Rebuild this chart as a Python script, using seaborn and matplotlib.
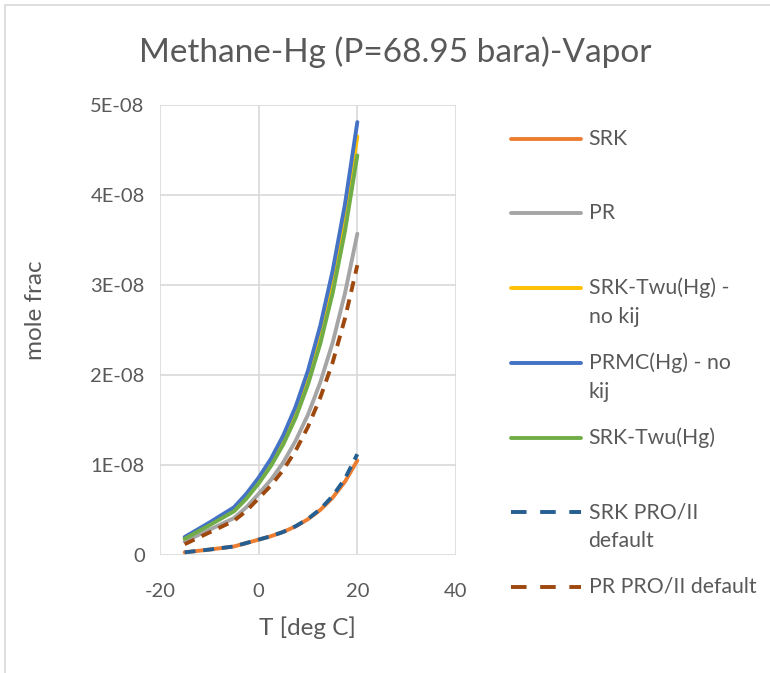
import numpy as np
import pandas as pd
import seaborn as sns
import matplotlib
matplotlib.use("Agg")
import matplotlib.pyplot as plt
from matplotlib.legend_handler import HandlerLine2D
from matplotlib.patches import Rectangle
from matplotlib.ticker import FixedLocator, FixedFormatter

# Temperatures [deg C] and vapor-phase Hg mole fraction for each EOS
temps = [-15, -10, -5, -2.5, 0, 2.5, 5, 7.5, 10, 12.5, 15, 17.5, 20]
srk = [0.3e-9, 0.6e-9, 0.95e-9, 1.33e-9, 1.71e-9, 2.09e-9, 2.57e-9, 3.18e-9, 3.98e-9, 5.01e-9, 6.37e-9, 8.15e-9, 10.5e-9]
pr = [1.5e-9, 2.8e-9, 4.1e-9, 5.3e-9, 6.8e-9, 8.37e-9, 10.3e-9, 12.7e-9, 15.6e-9, 19.2e-9, 23.6e-9, 29.1e-9, 35.7e-9]
srk_twu_nokij = [1.9e-9, 3.45e-9, 5.05e-9, 6.5e-9, 8.25e-9, 10.3e-9, 12.8e-9, 15.9e-9, 19.75e-9, 24.6e-9, 30.5e-9, 37.7e-9, 46.5e-9]
prmc_nokij = [2.0e-9, 3.6e-9, 5.3e-9, 6.8e-9, 8.6e-9, 10.7e-9, 13.3e-9, 16.5e-9, 20.5e-9, 25.5e-9, 31.6e-9, 39.0e-9, 48.1e-9]
srk_twu = [1.8e-9, 3.3e-9, 4.85e-9, 6.25e-9, 7.95e-9, 9.9e-9, 12.3e-9, 15.25e-9, 18.95e-9, 23.5e-9, 29.1e-9, 36.0e-9, 44.4e-9]
srk_proii = [0.3e-9, 0.6e-9, 0.95e-9, 1.33e-9, 1.71e-9, 2.09e-9, 2.57e-9, 3.2e-9, 4.02e-9, 5.1e-9, 6.55e-9, 8.5e-9, 11.2e-9]
pr_proii = [1.2e-9, 2.5e-9, 3.8e-9, 4.9e-9, 6.3e-9, 7.72e-9, 9.47e-9, 11.6e-9, 14.25e-9, 17.5e-9, 21.4e-9, 26.3e-9, 32.2e-9]

series_names = ["SRK", "PR", "SRK-Twu(Hg) - no kij", "PRMC(Hg) - no kij",
                "SRK-Twu(Hg)", "SRK PRO/II default", "PR PRO/II default"]
legend_labels = ["SRK\n ", "PR\n ", "SRK-Twu(Hg) -\nno kij", "PRMC(Hg) - no\nkij",
                 "SRK-Twu(Hg)\n ", "SRK PRO/II\ndefault", "PR PRO/II default\n "]
series_values = [srk, pr, srk_twu_nokij, prmc_nokij, srk_twu, srk_proii, pr_proii]
colors = ["#ED7D31", "#A5A5A5", "#FFC000", "#4472C4", "#70AD47", "#255E91", "#9E480E"]
dashed = [False, False, False, False, False, True, True]

x_ticks = [-20, 0, 20, 40]
x_tick_labels = ["-20", "0", "20", "40"]
y_ticks = [0, 1e-8, 2e-8, 3e-8, 4e-8, 5e-8]
y_tick_labels = ["0", "1E-08", "2E-08", "3E-08", "4E-08", "5E-08"]

df = pd.concat(
    [pd.DataFrame({"T": temps, "x": vals, "series": name})
     for name, vals in zip(series_names, series_values)],
    ignore_index=True,
)

sns.set_style("white")
plt.rcParams["font.family"] = ["Lato", "DejaVu Sans"]
plt.rcParams["axes.unicode_minus"] = False
TXT = "#595959"
GRID = "#D9D9D9"
LW = 2.8

fig = plt.figure(figsize=(7.7, 6.73), dpi=100)
ax = fig.add_axes([160 / 770, 1 - 555 / 673, 296 / 770, 450 / 673])

handles = []
for name, color, is_dashed in zip(series_names, colors, dashed):
    ls = (0, (2.8, 2.0)) if is_dashed else "-"
    sns.lineplot(data=df[df["series"] == name], x="T", y="x", ax=ax,
                 color=color, linewidth=LW, linestyle=ls, sort=False,
                 estimator=None, legend=False)
    handles.append(ax.lines[-1])

ax.set_xlim(-20, 40)
ax.set_ylim(0, 5e-8)
ax.xaxis.set_major_locator(FixedLocator(x_ticks))
ax.xaxis.set_major_formatter(FixedFormatter(x_tick_labels))
ax.yaxis.set_major_locator(FixedLocator(y_ticks))
ax.yaxis.set_major_formatter(FixedFormatter(y_tick_labels))
ax.grid(True, color=GRID, linewidth=1.2)
ax.set_axisbelow(True)
for s in ax.spines.values():
    s.set_visible(False)
ax.tick_params(axis="both", length=0, labelsize=14.5, labelcolor=TXT)
ax.tick_params(axis="y", pad=11)
ax.tick_params(axis="x", pad=20)

ax.set_xlabel("T [deg C]", fontsize=17.5, color=TXT, va="center")
ax.set_ylabel("mole frac", fontsize=17.5, color=TXT, va="center")
ax.xaxis.set_label_coords((307 - 160) / 296, (555 - 628) / 450)
ax.yaxis.set_label_coords((35 - 160) / 296, (555 - 310) / 450)

fig.text(395 / 770, 1 - 52 / 673, "Methane-Hg (P=68.95 bara)-Vapor",
         fontsize=24, color=TXT, ha="center", va="center")


class FirstLineHandler(HandlerLine2D):
    """Put the legend sample level with the first line of a two-line label."""

    def __init__(self, dy, **kw):
        super().__init__(**kw)
        self.dy = dy

    def create_artists(self, legend, orig_handle, xdescent, ydescent,
                       width, height, fontsize, trans):
        arts = super().create_artists(legend, orig_handle, xdescent, ydescent,
                                      width, height, fontsize, trans)
        for a in arts:
            a.set_ydata(np.asarray(a.get_ydata()) + self.dy)
            if a.get_linestyle() not in ("-", "solid"):
                a.set_linestyle((0, (4.0, 3.5)))
        return arts


leg = ax.legend(handles, legend_labels, loc="upper left",
                bbox_to_anchor=(511 / 770, 1 - 129 / 673),
                bbox_transform=fig.transFigure, frameon=False,
                fontsize=15.3, handlelength=3.3, handletextpad=0.35,
                labelspacing=1.2, borderaxespad=0, borderpad=0,
                handler_map={h: FirstLineHandler(10.8) for h in handles})
for t in leg.get_texts():
    t.set_color(TXT)
    t.set_linespacing(1.55)

# light chart-area border
fig.add_artist(Rectangle((5 / 770, -0.05), 1.2, 0.05 + 668 / 673,
                         transform=fig.transFigure, fill=False,
                         edgecolor=GRID, linewidth=1.2))

fig.savefig("out.png", dpi=100)
